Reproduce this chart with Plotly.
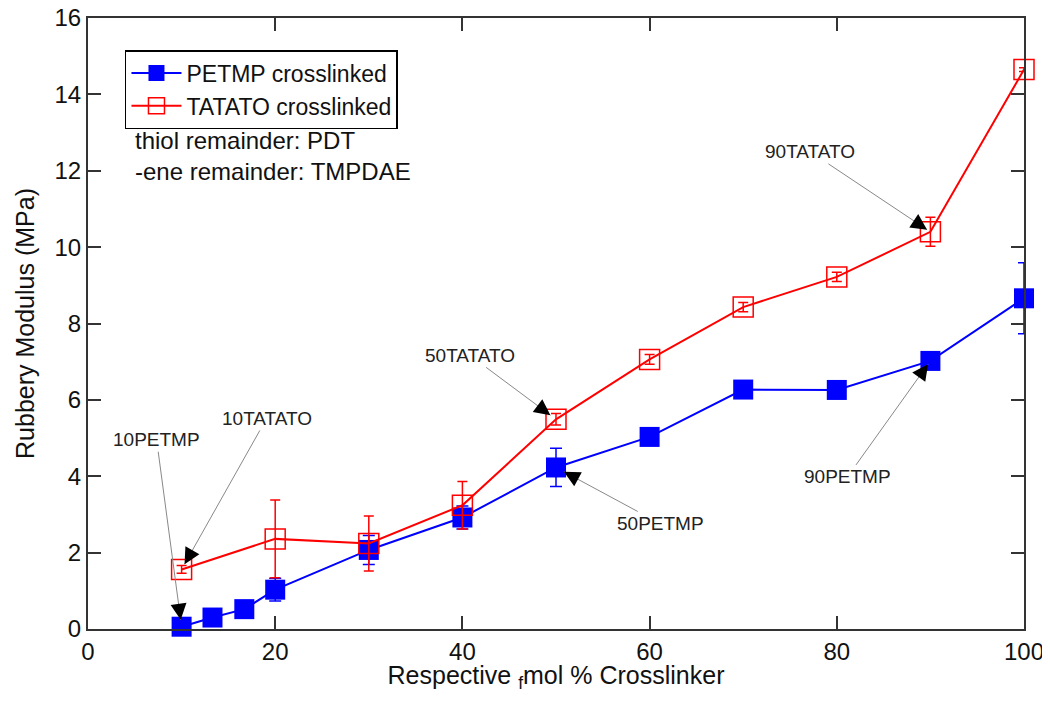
import plotly.graph_objects as go

# PETMP crosslinked series
x_pet = [10, 13.3, 16.7, 20, 30, 40, 50, 60, 70, 80, 90, 100]
y_pet = [0.06, 0.3, 0.52, 1.03, 2.07, 2.92, 4.23, 5.03, 6.27, 6.26, 7.02, 8.66]
e_pet = [0.05, 0.05, 0.05, 0.3, 0.38, 0.3, 0.5, 0.1, 0.17, 0.1, 0.1, 0.93]

# TATATO crosslinked series
x_tat = [10, 20, 30, 40, 50, 60, 70, 80, 90, 100]
y_tat = [1.56, 2.36, 2.24, 3.24, 5.49, 7.06, 8.43, 9.22, 10.4, 14.65]
e_tat = [0.1, 1.02, 0.72, 0.62, 0.15, 0.13, 0.12, 0.12, 0.38, 0.05]

# callout labels: (text, series, x value)
labels = [
    ("10PETMP", "pet", 10),
    ("10TATATO", "tat", 10),
    ("50TATATO", "tat", 50),
    ("50PETMP", "pet", 50),
    ("90TATATO", "tat", 90),
    ("90PETMP", "pet", 90),
]
# text offsets in pixels from the pointed marker, plus standoff
offsets = {
    "10PETMP": (-25, -187, 7),
    "10TATATO": (85, -151, 6),
    "50TATATO": (-86, -64, 7),
    "50PETMP": (104, 56, 9),
    "90TATATO": (-120, -80, 4),
    "90PETMP": (-83, 116, 4),
}

FONT = "Liberation Sans, Arial, sans-serif"

fig = go.Figure()

fig.add_trace(go.Scatter(
    x=x_pet, y=y_pet,
    error_y=dict(type='data', array=e_pet, color='#0000ff', thickness=1.5, width=6),
    mode='lines+markers',
    name='PETMP crosslinked',
    line=dict(color='#0000ff', width=2),
    marker=dict(symbol='square', size=20, color='#0000ff', line=dict(width=0)),
    cliponaxis=False,
))

fig.add_trace(go.Scatter(
    x=x_tat, y=y_tat,
    error_y=dict(type='data', array=e_tat, color='#ff0000', thickness=1.5, width=5),
    mode='lines+markers',
    name='TATATO crosslinked',
    line=dict(color='#ff0000', width=2),
    marker=dict(symbol='square-open', size=20, color='#ff0000', line=dict(width=1.5)),
    cliponaxis=False,
))

series = {"pet": (x_pet, y_pet), "tat": (x_tat, y_tat)}
for text, key, xv in labels:
    xs, ys = series[key]
    yv = ys[xs.index(xv)]
    ax, ay, so = offsets[text]
    # thin grey leader line with the label
    fig.add_annotation(
        x=xv, y=yv, ax=ax, ay=ay, text=text, showarrow=True,
        arrowhead=0, arrowwidth=1, arrowcolor='#888888', standoff=so,
        font=dict(family=FONT, size=19, color='#222222'),
    )
    # short black arrow head at the tip
    n = (ax ** 2 + ay ** 2) ** 0.5
    fig.add_annotation(
        x=xv, y=yv, ax=ax / n * 16, ay=ay / n * 16, text="", showarrow=True,
        arrowhead=2, arrowsize=1.6, arrowwidth=2, arrowcolor='#000000', standoff=so,
    )

fig.add_annotation(
    xref='paper', yref='paper', x=0.048, y=0.774, xanchor='left', yanchor='middle',
    text="thiol remainder: PDT<br>-ene remainder: TMPDAE", showarrow=False, align='left',
    font=dict(family=FONT, size=24, color='#111111'),
)

axis_common = dict(
    showline=True, linecolor='#333333', linewidth=2, mirror='ticks',
    ticks='inside', ticklen=13, tickwidth=2, tickcolor='#333333',
    showgrid=False, zeroline=False, automargin=False, ticklabeloverflow='allow',
    tickfont=dict(family=FONT, size=24, color='#111111'),
)

fig.update_xaxes(
    range=[0, 100], dtick=20,
    title=dict(text="Respective <sub>f</sub>mol % Crosslinker", font=dict(family=FONT, size=25, color='#111111'), standoff=6),
    **axis_common,
)
fig.update_yaxes(
    range=[0, 16], dtick=2,
    title=dict(text="Rubbery Modulus (MPa)", font=dict(family=FONT, size=25, color='#111111'), standoff=13),
    **axis_common,
)

# page body adds 8px around the figure, so size it to fit the 1050x701 window
fig.update_layout(
    width=1042, height=685,
    margin=dict(l=80, r=26, t=10, b=64),
    plot_bgcolor='white', paper_bgcolor='white',
    font=dict(family=FONT, color='#111111'),
    legend=dict(
        x=0.0395, y=0.9476, xanchor='left', yanchor='top',
        bordercolor='#000000', borderwidth=1.5, bgcolor='white',
        font=dict(family=FONT, size=23, color='#111111'),
        tracegroupgap=0, itemwidth=50,
    ),
)

fig.write_html("out.html")
